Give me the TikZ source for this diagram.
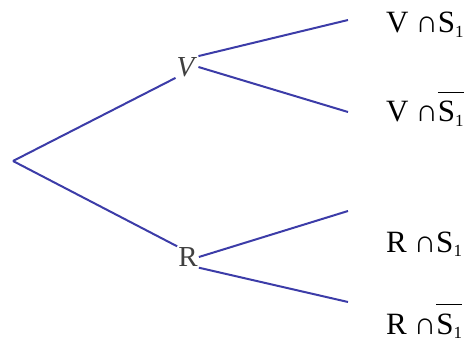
\documentclass[tikz,border=0pt]{standalone}
\usepackage{fontspec}
\setmainfont{Liberation Serif}
\definecolor{branchblue}{RGB}{60,60,168}
\newcommand{\idx}[1]{\raisebox{-5pt}{\fontsize{17}{17}\selectfont#1}}
\newcommand{\compl}[1]{\setbox0\hbox{#1}\rlap{\raisebox{29pt}{\rule{\wd0}{1.3pt}}}\box0}
\begin{document}
\begin{tikzpicture}[x=1pt,y=-1pt,
  branch/.style={draw=branchblue,line width=2pt},
  event/.style={inner sep=1pt,font=\fontsize{29}{31}\selectfont,text=black!75},
  leaf/.style={anchor=base west,inner sep=0pt,font=\fontsize{31}{33}\selectfont}]
  \useasboundingbox (0,0) rectangle (469,342);
  % first stage
  \coordinate (root) at (13,161);
  \node[event] (V) at (187,67) {\textit{V}};
  \node[event] (R) at (188,257) {R};
  \draw[branch] (root) -- (V.south west);
  \draw[branch] (root) -- (R.north west);
  % second stage
  \coordinate (vs) at (348,20);  \coordinate (vn) at (348,112);
  \coordinate (rs) at (348,211); \coordinate (rn) at (348,302);
  \draw[branch] (V.north east) -- (vs);
  \draw[branch] (V.east) -- (vn);
  \draw[branch] (R.east) -- (rs);
  \draw[branch] (R.south east) -- (rn);
  % outcomes
  \node[leaf] (VS) at (386,33) {V\kern7pt∩S\idx{1}};
  \node[leaf] (VN) at (386,122) {V\kern7pt∩\compl{S\idx{1}}};
  \node[leaf] (RS) at (386,252) {R\kern7pt∩S\idx{1}};
  \node[leaf] (RN) at (386,334) {R\kern7pt∩\compl{S\idx{1}}};
\end{tikzpicture}
\end{document}
